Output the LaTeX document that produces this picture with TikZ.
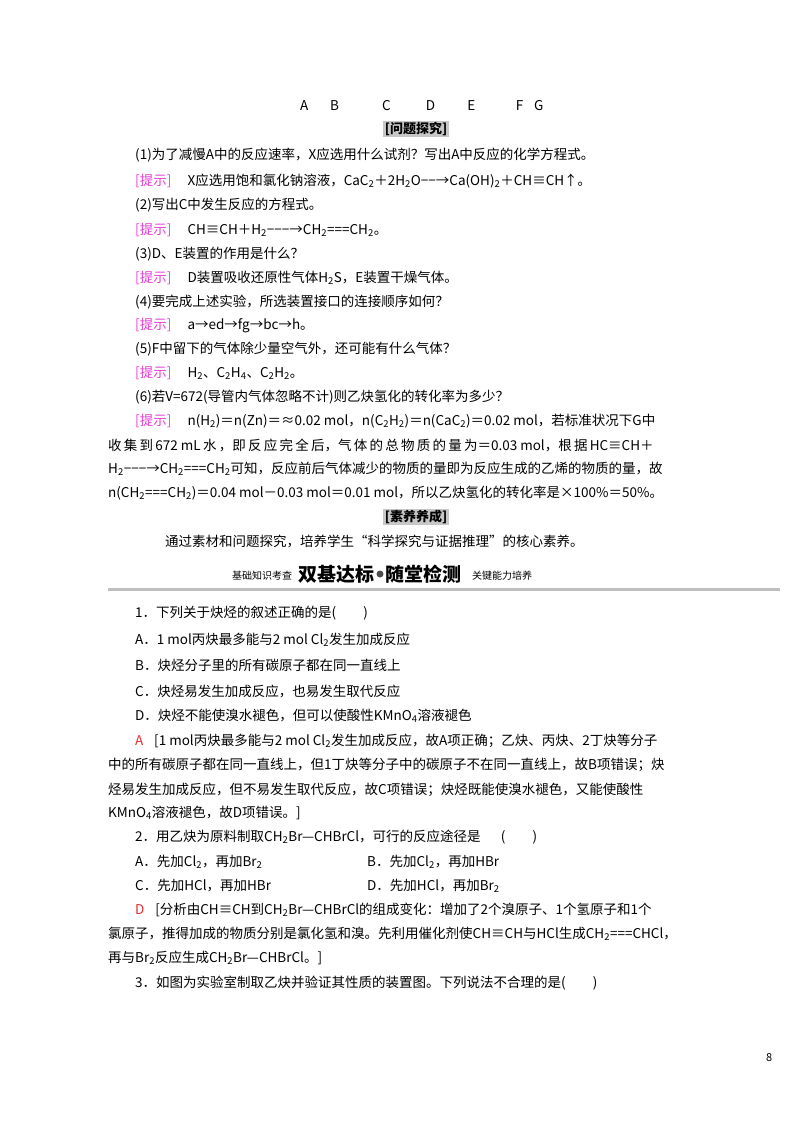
\documentclass[tikz,border=0pt]{standalone}
\usepackage{fontspec}
\setmainfont{Noto Sans CJK SC}
\newcommand{\ssb}[1]{\textsubscript{#1}}
\newcommand{\ts}{\textcolor{tipc}{[提示]}\hspace{1.2em}}
\begin{document}
\begin{tikzpicture}[x=1pt,y=-1pt,
  ln/.style={anchor=west,inner sep=0pt,font=\fontsize{13.5}{15}\selectfont},
  hdr/.style={fill=black!22,inner sep=1.5pt,font=\fontsize{13}{15}\selectfont\bfseries}]
\definecolor{tipc}{HTML}{E83FD8}
\definecolor{ansc}{HTML}{E03030}
\useasboundingbox (0,0) rectangle (800,1132);
\node[ln] (l0) at (300,106) {A\hspace{1.6em}B\hspace{3.2em}C\hspace{2.6em}D\hspace{2.4em}E\hspace{3em}F\hspace{0.8em}G};
\node[hdr] (h1) at (416,129) {[问题探究]};
\node[ln] (l1) at (135,155) {(1)为了减慢A中的反应速率，X应选用什么试剂？写出A中反应的化学方程式。};
\node[ln] (l2) at (135,181) {\ts X应选用饱和氯化钠溶液，CaC\ssb2＋2H\ssb2O−−→Ca(OH)\ssb2＋CH≡CH↑。};
\node[ln] (l3) at (135,205) {(2)写出C中发生反应的方程式。};
\node[ln] (l4) at (135,230) {\ts CH≡CH＋H\ssb2−−−→CH\ssb2===CH\ssb2。};
\node[ln] (l5) at (135,254) {(3)D、E装置的作用是什么？};
\node[ln] (l6) at (135,278) {\ts D装置吸收还原性气体H\ssb2S，E装置干燥气体。};
\node[ln] (l7) at (135,302) {(4)要完成上述实验，所选装置接口的连接顺序如何？};
\node[ln] (l8) at (135,326) {\ts a→ed→fg→bc→h。};
\node[ln] (l9) at (135,349) {(5)F中留下的气体除少量空气外，还可能有什么气体？};
\node[ln] (l10) at (135,373) {\ts H\ssb2、C\ssb2H\ssb4、C\ssb2H\ssb2。};
\node[ln] (l11) at (135,397) {(6)若\textit{V}=672(导管内气体忽略不计)则乙炔氢化的转化率为多少？};
\node[ln] (l12) at (135,421) {\ts \textit{n}(H\ssb2)＝\textit{n}(Zn)＝≈0.02 mol，\textit{n}(C\ssb2H\ssb2)＝\textit{n}(CaC\ssb2)＝0.02 mol，若标准状况下G中};
\node[ln] (l13) at (108,445) {收\,集\,到\,672 mL\,水\,，即\,反\,应\,完\,全\,后，气\,体\,的\,总\,物\,质\,的\,量\,为＝0.03 mol，根\,据\,HC≡CH＋};
\node[ln] (l14) at (108,469) {H\ssb2−−−→CH\ssb2===CH\ssb2可知，反应前后气体减少的物质的量即为反应生成的乙烯的物质的量，故};
\node[ln] (l15) at (108,493) {\textit{n}(CH\ssb2===CH\ssb2)＝0.04 mol－0.03 mol＝0.01 mol，所以乙炔氢化的转化率是×100\%＝50\%。};
\node[hdr] (h2) at (416,517) {[素养养成]};
\node[ln] (l16) at (165,541) {通过素材和问题探究，培养学生“科学探究与证据推理”的核心素养。};
\node[anchor=west,inner sep=0pt,font=\fontsize{10}{12}\selectfont\itshape] (b1) at (232,576) {基础知识考查};
\node[anchor=west,inner sep=0pt,font=\fontsize{19}{22}\selectfont\bfseries] (b2) at (298,574) {双基达标};
\node[circle,fill=black!70,minimum size=7pt,inner sep=0pt] (b3) at (380,574) {};
\node[anchor=west,inner sep=0pt,font=\fontsize{19}{22}\selectfont\bfseries] (b4) at (385,574) {随堂检测};
\node[anchor=west,inner sep=0pt,font=\fontsize{10}{12}\selectfont\itshape] (b5) at (472,576) {关键能力培养};
\draw[black!25,line width=3pt] (108,589) -- (780,589);
\node[ln] (q1) at (135,613) {1．下列关于炔烃的叙述正确的是(\hspace{2em})};
\node[ln] (q1a) at (135,640) {A．1 mol丙炔最多能与2 mol Cl\ssb2发生加成反应};
\node[ln] (q1b) at (135,665) {B．炔烃分子里的所有碳原子都在同一直线上};
\node[ln] (q1c) at (135,691) {C．炔烃易发生加成反应，也易发生取代反应};
\node[ln] (q1d) at (135,716) {D．炔烃不能使溴水褪色，但可以使酸性KMnO\ssb4溶液褪色};
\node[ln] (a1) at (135,741) {\textcolor{ansc}{A}\hspace{0.8em}[1 mol丙炔最多能与2 mol Cl\ssb2发生加成反应，故A项正确；乙炔、丙炔、2丁炔等分子};
\node[ln] (a2) at (108,765) {中的所有碳原子都在同一直线上，但1丁炔等分子中的碳原子不在同一直线上，故B项错误；炔};
\node[ln] (a3) at (108,790) {烃易发生加成反应，但不易发生取代反应，故C项错误；炔烃既能使溴水褪色，又能使酸性};
\node[ln] (a4) at (108,813) {KMnO\ssb4溶液褪色，故D项错误。]};
\node[ln] (q2) at (135,837) {2．用乙炔为原料制取CH\ssb2Br—CHBrCl，可行的反应途径是\hspace{1.5em}(\hspace{2em})};
\node[ln] (q2a) at (135,862) {A．先加Cl\ssb2，再加Br\ssb2};
\node[ln] (q2b) at (367,862) {B．先加Cl\ssb2，再加HBr};
\node[ln] (q2c) at (135,886) {C．先加HCl，再加HBr};
\node[ln] (q2d) at (367,886) {D．先加HCl，再加Br\ssb2};
\node[ln] (a5) at (135,910) {\textcolor{ansc}{D}\hspace{0.8em}[分析由CH≡CH到CH\ssb2Br—CHBrCl的组成变化：增加了2个溴原子、1个氢原子和1个};
\node[ln] (a6) at (108,934) {氯原子，推得加成的物质分别是氯化氢和溴。先利用催化剂使CH≡CH与HCl生成CH\ssb2===CHCl，};
\node[ln] (a7) at (108,958) {再与Br\ssb2反应生成CH\ssb2Br—CHBrCl。]};
\node[ln] (q3) at (135,983) {3．如图为实验室制取乙炔并验证其性质的装置图。下列说法不合理的是(\hspace{2em})};
\node[ln,font=\fontsize{11}{13}\selectfont] (pg) at (766,1058) {8};
\end{tikzpicture}
\end{document}
